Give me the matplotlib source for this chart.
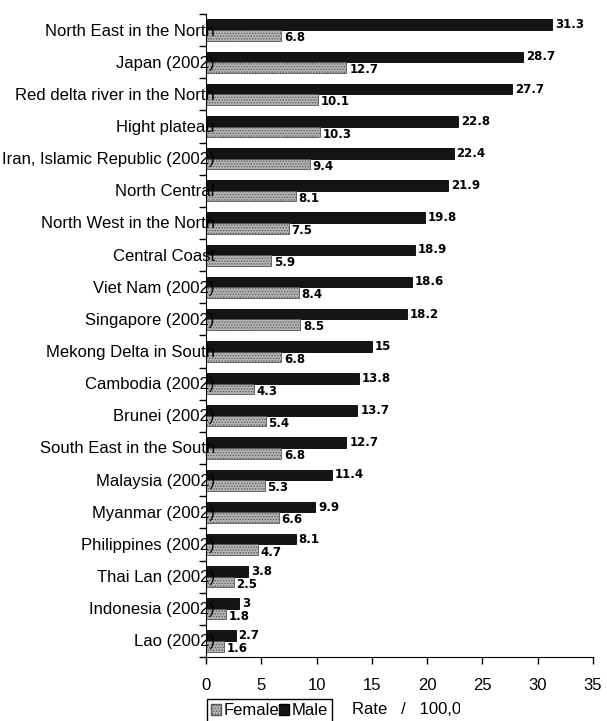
import matplotlib
matplotlib.use("Agg")
import matplotlib.pyplot as plt
from matplotlib.patches import Patch
from matplotlib.transforms import Bbox
import numpy as np

categories = [
    "North East in the North", "Japan (2002)", "Red delta river in the North",
    "Hight plateau", "Iran, Islamic Republic (2002)", "North Central",
    "North West in the North", "Central Coast", "Viet Nam (2002)",
    "Singapore (2002)", "Mekong Delta in South", "Cambodia (2002)",
    "Brunei (2002)", "South East in the South", "Malaysia (2002)",
    "Myanmar (2002)", "Philippines (2002)", "Thai Lan (2002)",
    "Indonesia (2002)", "Lao (2002)",
]
male = [31.3, 28.7, 27.7, 22.8, 22.4, 21.9, 19.8, 18.9, 18.6, 18.2,
        15, 13.8, 13.7, 12.7, 11.4, 9.9, 8.1, 3.8, 3, 2.7]
female = [6.8, 12.7, 10.1, 10.3, 9.4, 8.1, 7.5, 5.9, 8.4, 8.5,
          6.8, 4.3, 5.4, 6.8, 5.3, 6.6, 4.7, 2.5, 1.8, 1.6]
x_ticks = [0, 5, 10, 15, 20, 25, 30, 35]

plt.rcParams["font.family"] = ["Liberation Sans", "DejaVu Sans"]
plt.rcParams["hatch.linewidth"] = 0.6

fig = plt.figure(figsize=(6.07, 7.21), dpi=100)
ax = fig.add_axes([206 / 607, 1 - 657 / 721, 387 / 607, (657 - 14) / 721])

y = np.arange(len(categories))
h = 0.33
male_color = "#141414"
female_color = "#b4b4b4"

ax.barh(y - h / 2, male, height=h, color=male_color, edgecolor="black",
        linewidth=0.6, zorder=3)
ax.barh(y + h / 2, female, height=h, color=female_color, edgecolor="#555555",
        hatch="......", linewidth=0.6, zorder=3)

for yi, m, f in zip(y, male, female):
    ax.text(m + 0.25, yi - h / 2, f"{m:g}", va="center", ha="left",
            fontsize=8.5, fontweight="bold", family="DejaVu Sans", zorder=4)
    ax.text(f + 0.25, yi + h / 2 + 0.07, f"{f:g}", va="center", ha="left",
            fontsize=8.5, fontweight="bold", family="DejaVu Sans", zorder=4)

# Category names run slightly past the axis, over the start of the bars
for yi, name in zip(y, categories):
    ax.text(0.8, yi + 0.03, name, ha="right", va="center", fontsize=12,
            zorder=4, clip_on=False)

ax.set_xlim(0, 35)
ax.set_ylim(len(categories) - 0.5, -0.5)
ax.set_xticks(x_ticks)
ax.set_xticklabels([str(t) for t in x_ticks], fontsize=12)
ax.set_yticks(np.arange(len(categories) + 1) - 0.5)
ax.set_yticklabels([])
ax.tick_params(axis="x", direction="out", length=5, width=1, pad=10)
ax.tick_params(axis="y", direction="out", length=5, width=1)
ax.spines["top"].set_visible(False)
ax.spines["right"].set_visible(False)
ax.spines["left"].set_zorder(5)

handles = [Patch(facecolor=female_color, edgecolor="#555555", hatch="......"),
           Patch(facecolor=male_color, edgecolor="black")]
leg = fig.legend(handles, ["Female", "Male"], loc="lower left",
                 bbox_to_anchor=(207 / 607, -0.002), ncol=2, fontsize=12,
                 handlelength=0.6, handleheight=0.6, handletextpad=0.15,
                 columnspacing=0.0, borderpad=0.25, fancybox=False,
                 framealpha=1, edgecolor="black", borderaxespad=0)
leg.get_frame().set_linewidth(1)

rate = fig.text(352 / 607, 1 - 709 / 721, "Rate   /   100,000", fontsize=12,
                va="center", ha="left")
rate.set_clip_box(Bbox([[0, 0], [460, 721]]))
rate.set_clip_on(True)

fig.savefig("out.png", dpi=100)
